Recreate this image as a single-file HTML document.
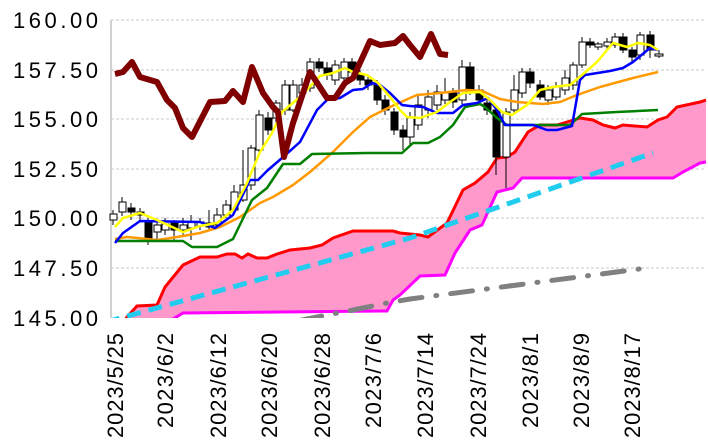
<!DOCTYPE html>
<html><head><meta charset="utf-8"><style>html,body{margin:0;padding:0;background:#fff}svg{display:block}</style></head>
<body>
<svg width="708" height="445" viewBox="0 0 708 445" xmlns="http://www.w3.org/2000/svg" font-family="'Liberation Sans', sans-serif">
<g stroke="#c8c8c8" stroke-width="1" stroke-dasharray="3,2">
<line x1="111" y1="20" x2="705" y2="20"/><line x1="111" y1="70" x2="705" y2="70"/><line x1="111" y1="119" x2="705" y2="119"/><line x1="111" y1="169" x2="705" y2="169"/><line x1="111" y1="218" x2="705" y2="218"/><line x1="111" y1="268" x2="705" y2="268"/>
</g>
<line x1="111" y1="20" x2="111" y2="318" stroke="#d0d0d0" stroke-width="2"/>
<g font-size="22" fill="#000" text-anchor="end">
<text x="98" y="28" textLength="85">160.00</text><text x="98" y="78" textLength="85">157.50</text><text x="98" y="127" textLength="85">155.00</text><text x="98" y="177" textLength="85">152.50</text><text x="98" y="226" textLength="85">150.00</text><text x="98" y="276" textLength="85">147.50</text><text x="98" y="326" textLength="85">145.00</text>
</g>
<clipPath id="c"><rect x="111" y="0" width="597" height="318"/></clipPath>
<g clip-path="url(#c)">
<polygon fill="#ff99cc" points="118,330 127,317 137,306 157,305 165,287 183,265 200,257 217,257 227,254 235,254 242,258 248,254 257,258 267,258 277,254 290,250 310,248 322,245 333,238 353,231 393,231 400,233 420,235 428,237 447,223 463,190 475,183 488,172 497,158 507,157 515,152 528,132 540,125 557,125 567,122 580,118 593,120 603,125 615,128 623,125 647,127 658,120 667,117 677,107 700,102 706,100 706,162 700,163 683,172 673,178 522,178 513,188 497,192 482,225 470,230 455,253 445,275 420,276 400,295 393,300 387,311 183,313 173,319 170,330"/>
<polyline fill="none" stroke="#ff0000" stroke-width="3" points="118,330 127,317 137,306 157,305 165,287 183,265 200,257 217,257 227,254 235,254 242,258 248,254 257,258 267,258 277,254 290,250 310,248 322,245 333,238 353,231 393,231 400,233 420,235 428,237 447,223 463,190 475,183 488,172 497,158 507,157 515,152 528,132 540,125 557,125 567,122 580,118 593,120 603,125 615,128 623,125 647,127 658,120 667,117 677,107 700,102 706,100"/>
<polyline fill="none" stroke="#ff00ff" stroke-width="3" points="170,330 173,319 183,313 387,311 393,300 400,295 420,276 445,275 455,253 470,230 482,225 497,192 513,188 522,178 673,178 683,172 700,163 706,162"/>
<polyline fill="none" stroke="#808080" stroke-width="5" stroke-linecap="round" stroke-dasharray="22,14,1,14" points="250,330 353,310 387,303 410,299 647,268"/>
<polyline fill="none" stroke="#22ccee" stroke-width="5" stroke-dasharray="14,8" points="106,322 410,238 653,153"/>
</g>
<g stroke="#000" stroke-width="1">
<g fill="#fff">
<line x1="113" y1="210" x2="113" y2="225"/><rect x="110" y="214" width="7" height="6"/>
<line x1="122" y1="197" x2="122" y2="216"/><rect x="119" y="202" width="7" height="10"/>
<line x1="157" y1="220" x2="157" y2="240"/><rect x="154" y="225" width="7" height="7"/>
<line x1="165" y1="218" x2="165" y2="235"/><rect x="162" y="224" width="7" height="6"/>
<line x1="183" y1="218" x2="183" y2="235"/><rect x="180" y="225" width="7" height="5"/>
<line x1="191" y1="215" x2="191" y2="240"/><rect x="188" y="222" width="7" height="6"/>
<line x1="200" y1="218" x2="200" y2="230"/><rect x="197" y="222" width="7" height="4"/>
<line x1="209" y1="210" x2="209" y2="230"/><rect x="206" y="223" width="7" height="4"/>
<line x1="217" y1="208" x2="217" y2="228"/><rect x="214" y="215" width="7" height="10"/>
<line x1="226" y1="200" x2="226" y2="218"/><rect x="223" y="205" width="7" height="10"/>
<line x1="234" y1="185" x2="234" y2="212"/><rect x="231" y="192" width="7" height="18"/>
<line x1="243" y1="150" x2="243" y2="202"/><rect x="240" y="185" width="7" height="15"/>
<line x1="251" y1="145" x2="251" y2="190"/><rect x="248" y="148" width="7" height="37"/>
<line x1="259" y1="110" x2="259" y2="155"/><rect x="256" y="115" width="7" height="35"/>
<line x1="276" y1="100" x2="276" y2="125"/><rect x="273" y="103" width="7" height="15"/>
<line x1="285" y1="80" x2="285" y2="115"/><rect x="282" y="85" width="7" height="25"/>
<line x1="293" y1="80" x2="293" y2="112"/><rect x="290" y="85" width="7" height="25"/>
<line x1="302" y1="78" x2="302" y2="100"/><rect x="299" y="85" width="7" height="8"/>
<line x1="310" y1="58" x2="310" y2="92"/><rect x="307" y="62" width="7" height="26"/>
<line x1="335" y1="60" x2="335" y2="85"/><rect x="332" y="65" width="7" height="15"/>
<line x1="344" y1="58" x2="344" y2="82"/><rect x="341" y="62" width="7" height="16"/>
<line x1="410" y1="112" x2="410" y2="145"/><rect x="407" y="118" width="7" height="19"/>
<line x1="418" y1="95" x2="418" y2="130"/><rect x="415" y="105" width="7" height="20"/>
<line x1="428" y1="90" x2="428" y2="118"/><rect x="425" y="97" width="7" height="13"/>
<line x1="437" y1="85" x2="437" y2="110"/><rect x="434" y="92" width="7" height="13"/>
<line x1="445" y1="78" x2="445" y2="104"/><rect x="442" y="93" width="7" height="7"/>
<line x1="462" y1="60" x2="462" y2="104"/><rect x="459" y="67" width="7" height="33"/>
<line x1="506" y1="108" x2="506" y2="188"/><rect x="503" y="112" width="7" height="45"/>
<line x1="514" y1="75" x2="514" y2="115"/><rect x="511" y="90" width="7" height="20"/>
<line x1="522" y1="68" x2="522" y2="98"/><rect x="519" y="72" width="7" height="21"/>
<line x1="548" y1="85" x2="548" y2="105"/><rect x="545" y="90" width="7" height="10"/>
<line x1="556" y1="82" x2="556" y2="100"/><rect x="553" y="87" width="7" height="10"/>
<line x1="565" y1="70" x2="565" y2="95"/><rect x="562" y="78" width="7" height="12"/>
<line x1="573" y1="62" x2="573" y2="90"/><rect x="570" y="65" width="7" height="20"/>
<line x1="582" y1="37" x2="582" y2="68"/><rect x="579" y="42" width="7" height="23"/>
<line x1="598" y1="42" x2="598" y2="50"/><rect x="595" y="44" width="7" height="3"/>
<line x1="607" y1="38" x2="607" y2="50"/><rect x="604" y="42" width="7" height="4"/>
<line x1="615" y1="33" x2="615" y2="48"/><rect x="612" y="37" width="7" height="8"/>
<line x1="640" y1="32" x2="640" y2="60"/><rect x="637" y="35" width="7" height="20"/>
<line x1="659" y1="50" x2="659" y2="58"/><rect x="655" y="54" width="8" height="2"/>
</g>
<g fill="#000">
<line x1="131" y1="203" x2="131" y2="220"/><rect x="128" y="208" width="7" height="4"/>
<line x1="140" y1="208" x2="140" y2="222"/><rect x="137" y="212" width="7" height="3"/>
<line x1="148" y1="218" x2="148" y2="245"/><rect x="145" y="222" width="7" height="16"/>
<line x1="174" y1="220" x2="174" y2="240"/><rect x="171" y="222" width="7" height="8"/>
<line x1="268" y1="112" x2="268" y2="135"/><rect x="265" y="118" width="7" height="12"/>
<line x1="319" y1="58" x2="319" y2="72"/><rect x="316" y="62" width="7" height="6"/>
<line x1="327" y1="62" x2="327" y2="80"/><rect x="324" y="68" width="7" height="7"/>
<line x1="352" y1="58" x2="352" y2="76"/><rect x="349" y="62" width="7" height="10"/>
<line x1="360" y1="70" x2="360" y2="85"/><rect x="357" y="75" width="7" height="5"/>
<line x1="368" y1="75" x2="368" y2="90"/><rect x="365" y="80" width="7" height="5"/>
<line x1="377" y1="80" x2="377" y2="105"/><rect x="374" y="85" width="7" height="15"/>
<line x1="385" y1="95" x2="385" y2="115"/><rect x="382" y="100" width="7" height="10"/>
<line x1="394" y1="108" x2="394" y2="135"/><rect x="391" y="112" width="7" height="18"/>
<line x1="403" y1="125" x2="403" y2="150"/><rect x="400" y="130" width="7" height="7"/>
<line x1="453" y1="88" x2="453" y2="108"/><rect x="450" y="93" width="7" height="9"/>
<line x1="470" y1="62" x2="470" y2="95"/><rect x="467" y="67" width="7" height="23"/>
<line x1="479" y1="85" x2="479" y2="103"/><rect x="476" y="90" width="7" height="10"/>
<line x1="487" y1="98" x2="487" y2="115"/><rect x="484" y="103" width="7" height="7"/>
<line x1="496" y1="105" x2="496" y2="175"/><rect x="493" y="110" width="7" height="47"/>
<line x1="530" y1="68" x2="530" y2="88"/><rect x="527" y="72" width="7" height="11"/>
<line x1="540" y1="80" x2="540" y2="100"/><rect x="537" y="85" width="7" height="12"/>
<line x1="590" y1="38" x2="590" y2="48"/><rect x="587" y="42" width="7" height="3"/>
<line x1="623" y1="33" x2="623" y2="53"/><rect x="620" y="37" width="7" height="13"/>
<line x1="632" y1="47" x2="632" y2="62"/><rect x="629" y="50" width="7" height="7"/>
<line x1="650" y1="31" x2="650" y2="58"/><rect x="647" y="35" width="7" height="15"/>
</g>
</g>
<g fill="none" stroke-linejoin="round">
<polyline stroke="#ff9900" stroke-width="2.5" points="115,239 127,237 157,240 177,237 200,233 220,227 240,217 260,203 273,197 293,185 310,172 333,152 353,132 370,117 390,107 410,98 417,95 440,93 467,90 482,91 500,99 517,102 543,104 560,102 577,95 600,87 633,78 658,72"/>
<polyline stroke="#008000" stroke-width="2.5" points="115,241 183,241 192,247 217,247 233,239 252,200 267,188 283,164 300,164 312,154 367,153 402,153 413,143 428,143 440,137 453,125 465,107 480,104 485,107 497,118 507,125 570,125 582,114 617,112 658,110"/>
<polyline stroke="#0000ff" stroke-width="2.5" points="115,243 123,233 140,221 200,222 215,228 233,215 250,180 258,180 268,170 282,158 300,142 317,110 327,100 340,98 353,90 363,89 372,83 380,85 390,93 402,105 410,106 423,107 437,113 453,113 463,105 477,103 488,98 497,110 505,125 533,125 547,130 557,130 572,126 580,80 585,75 610,71 623,68 633,62 650,48 658,50"/>
<polyline stroke="#ffff00" stroke-width="2.5" points="115,227 123,218 140,213 157,220 183,232 200,226 217,223 233,210 247,183 260,152 272,133 282,112 300,97 320,76 333,73 345,68 353,72 367,75 378,83 390,97 400,110 407,117 420,118 437,112 450,102 463,93 480,92 490,100 502,112 512,115 527,105 540,90 553,87 570,85 582,75 597,62 613,43 627,47 638,43 650,45 658,50"/>
<polyline stroke="#800000" stroke-width="6" points="115,74 123,72 132,62 140,77 157,82 167,100 175,108 183,128 192,137 210,102 225,101 233,91 243,102 252,67 263,93 273,107 278,112 284,157 293,123 310,72 327,98 335,98 345,83 353,78 370,41 380,45 395,43 403,36 410,45 420,57 431,34 440,54 448,55"/>
</g>
<g font-size="22" fill="#000" text-anchor="end">
<text transform="translate(123,333) rotate(-90)" textLength="105">2023/5/25</text>
<text transform="translate(173,333) rotate(-90)" textLength="95">2023/6/2</text>
<text transform="translate(226,333) rotate(-90)" textLength="105">2023/6/12</text>
<text transform="translate(277,333) rotate(-90)" textLength="105">2023/6/20</text>
<text transform="translate(330,333) rotate(-90)" textLength="105">2023/6/28</text>
<text transform="translate(381,333) rotate(-90)" textLength="95">2023/7/6</text>
<text transform="translate(433,333) rotate(-90)" textLength="105">2023/7/14</text>
<text transform="translate(486,333) rotate(-90)" textLength="105">2023/7/24</text>
<text transform="translate(538,333) rotate(-90)" textLength="95">2023/8/1</text>
<text transform="translate(589,333) rotate(-90)" textLength="95">2023/8/9</text>
<text transform="translate(640,333) rotate(-90)" textLength="105">2023/8/17</text>
</g>
</svg>
</body></html>
